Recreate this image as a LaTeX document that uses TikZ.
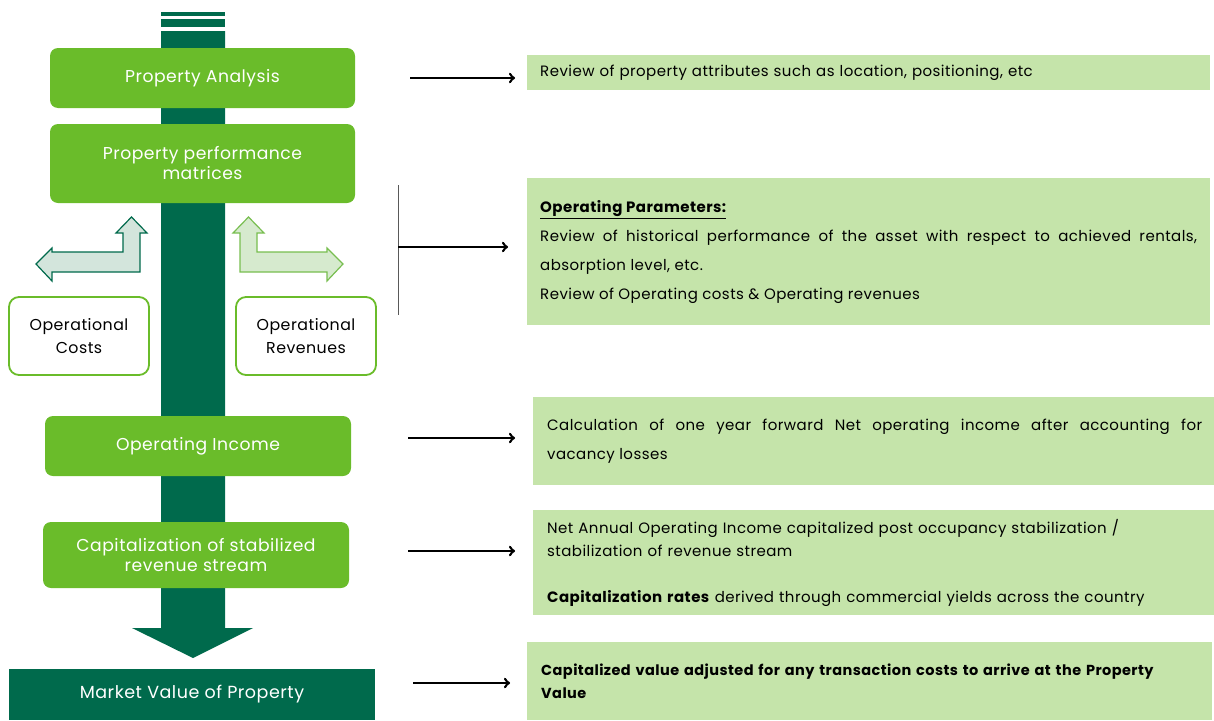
\documentclass[tikz,border=0pt]{standalone}
\usepackage{fontspec}
\setmainfont{Poppins}[LetterSpace=3]
\usetikzlibrary{positioning}

\definecolor{dkgreen}{RGB}{0,106,76}
\definecolor{lgreen}{RGB}{106,188,42}
\definecolor{pale}{RGB}{197,228,170}
\definecolor{costfill}{RGB}{211,229,220}
\definecolor{revfill}{RGB}{214,234,206}
\definecolor{revline}{RGB}{120,190,80}

\tikzset{
  stage/.style={fill=lgreen, rounded corners=8pt, text=white, align=center,
    minimum width=305pt, font=\fontsize{17.2}{20}\selectfont},
  opbox/.style={draw=lgreen, line width=1.8pt, fill=white, rounded corners=10pt,
    minimum width=140pt, minimum height=78pt, align=center,
    font=\fontsize{15.8}{23}\selectfont},
  note/.style={fill=pale, anchor=north west, inner xsep=13pt, inner ysep=0pt,
    font=\fontsize{15}{29}\selectfont},
  link/.style={->, line width=2.6pt, shorten >=14pt}
}

\begin{document}
\begin{tikzpicture}[x=1pt, y=-1pt]
\useasboundingbox (0,0) rectangle (1214,720);

% main trunk
\fill[dkgreen] (161,12) rectangle (225,16);
\fill[dkgreen] (161,19) rectangle (225,27);
\fill[dkgreen] (161,31) -- (225,31) -- (225,628) -- (253,628) -- (193,658)
  -- (132,628) -- (161,628) -- cycle;

% stages
\node[stage, minimum height=60pt] (analysis) at (202.5,78) {Property Analysis};
\node[stage, minimum height=79pt] (matrices) at (202.5,163.5) {Property performance\\matrices};
\node[stage, minimum height=60pt, minimum width=306pt] (income) at (198,446) {Operating Income};
\node[stage, minimum height=66pt, minimum width=306pt] (capital) at (196,555) {Capitalization of stabilized\\revenue stream};
\node[fill=dkgreen, text=white, minimum width=366pt, minimum height=51pt,
  font=\fontsize{17.5}{20}\selectfont] (market) at (192,694.5) {Market Value of Property};

% bent arrows
\draw[dkgreen, line width=1.2pt, fill=costfill] (131.5,217) -- (147,233) -- (140,233)
  -- (140,272) -- (52,272) -- (52,281) -- (36,264) -- (52,248) -- (52,252)
  -- (123,252) -- (123,233) -- (116,233) -- cycle;
\draw[revline, line width=1.2pt, fill=revfill] (248.5,217) -- (264,233) -- (257,233)
  -- (257,252) -- (327,252) -- (327,248) -- (343,264) -- (327,281) -- (327,272)
  -- (240,272) -- (240,233) -- (233,233) -- cycle;

\node[opbox] (costs) at (79,336) {Operational\\Costs};
\node[opbox] (revenues) at (306,336) {Operational\\Revenues};

% notes
\node[note, minimum width=683pt, minimum height=35pt, text width=657pt, align=left] (n1) at (527,55)
  {Review of property attributes such as location, positioning, etc};
\node[note, minimum width=683pt, minimum height=147pt, text width=657pt, align=justify] (n2) at (527,178)
  {\underline{\bfseries Operating Parameters:}\\
   Review of historical performance of the asset with respect to achieved rentals,\linebreak absorption level, etc.\\
   Review of Operating costs \& Operating revenues};
\node[note, minimum width=679pt, minimum height=88pt, text width=655pt, inner xsep=14pt, align=justify] (n3) at (533,397)
  {Calculation of one year forward Net operating income after accounting for\linebreak vacancy losses};
\node[note, minimum width=679pt, minimum height=105pt, text width=655pt, inner xsep=14pt, align=left,
  font=\fontsize{15}{23}\selectfont] (n4) at (533,510)
  {Net Annual Operating Income capitalized post occupancy stabilization /\\
   stabilization of revenue stream\\[23pt]
   \textbf{Capitalization rates} derived through commercial yields across the country};
\node[note, minimum width=683pt, minimum height=78pt, text width=657pt, inner xsep=14pt, align=left,
  font=\bfseries\fontsize{14.5}{23}\selectfont] (n5) at (527,642)
  {Capitalized value adjusted for any transaction costs to arrive at the Property\\Value};

% connectors
\coordinate (s1) at (410,78);
\coordinate (bt) at (398,185);
\coordinate (bb) at (398,315);
\coordinate (s2) at (398,247);
\coordinate (s3) at (408,438);
\coordinate (s4) at (408,551);
\coordinate (s5) at (413,683);
\draw[gray!70!black, line width=1pt] (bt) -- (bb);
\draw[link, shorten >=12pt] (s1) -- (s1 -| n1.west);
\draw[link, shorten >=19pt] (s2) -- (s2 -| n2.west);
\draw[link, shorten >=18pt] (s3) -- (s3 -| n3.west);
\draw[link, shorten >=18pt] (s4) -- (s4 -| n4.west);
\draw[link, shorten >=17pt] (s5) -- (s5 -| n5.west);
\end{tikzpicture}
\end{document}
